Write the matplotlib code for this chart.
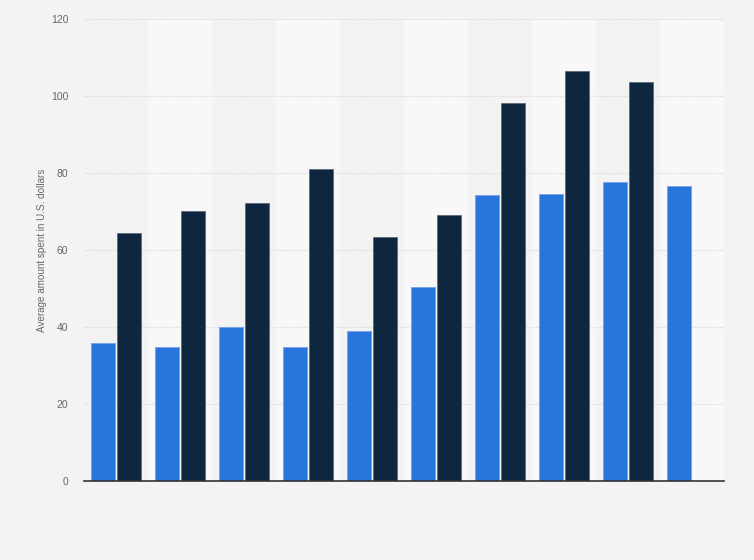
import matplotlib
matplotlib.use("Agg")
import matplotlib.pyplot as plt
import numpy as np

plt.rcParams['font.family'] = ['Liberation Sans', 'DejaVu Sans']

categories = ['1', '2', '3', '4', '5', '6', '7', '8', '9', '10']
series_a = [35.8, 34.8, 39.9, 34.9, 39.1, 50.5, 74.3, 74.6, 77.7, 76.6]
series_b = [64.4, 70.2, 72.2, 81.0, 63.4, 69.1, 98.2, 106.6, 103.7, None]
yticks = [0, 20, 40, 60, 80, 100, 120]

bg = '#f3f3f3'
fig = plt.figure(figsize=(7.54, 5.6), dpi=100, facecolor=bg)
ax = fig.add_axes([84.3 / 754, 79 / 560, 640 / 754, 461.7 / 560])
ax.set_facecolor(bg)

n = len(categories)
x = np.arange(n)
for i in range(n):
    if i % 2 == 1:
        ax.axvspan(i - 0.5, i + 0.5, color='#f8f8f8', zorder=0, lw=0)

w = 0.375
off = 0.203
ax.bar(x - off, series_a, width=w, color='#2876dd', edgecolor='#6fa3e8', linewidth=0.6, zorder=3)
xb = [xi + off for xi, v in zip(x, series_b) if v is not None]
vb = [v for v in series_b if v is not None]
ax.bar(xb, vb, width=w, color='#0f2640', edgecolor='#5b6b7c', linewidth=0.6, zorder=3)

ax.set_xlim(-0.5, n - 0.5)
ax.set_ylim(0, 120)
ax.set_yticks(yticks)
ax.set_yticklabels([str(t) for t in yticks], fontsize=7.5, color='#666666')
ax.set_xticks([])
ax.yaxis.grid(True, color='#dadada', linestyle=(0, (1, 1)), linewidth=0.8, zorder=1)
ax.set_axisbelow(True)
ax.tick_params(axis='y', length=0, pad=11.5)
for s in ['top', 'right', 'left']:
    ax.spines[s].set_visible(False)
ax.spines['bottom'].set_color('#333333')
ax.spines['bottom'].set_linewidth(1.2)
ax.spines['bottom'].set_zorder(5)

ax.set_ylabel('Average amount spent in U.S. dollars', fontsize=7.1, color='#666666', labelpad=3)

fig.savefig('out.png', dpi=100, facecolor=bg)
